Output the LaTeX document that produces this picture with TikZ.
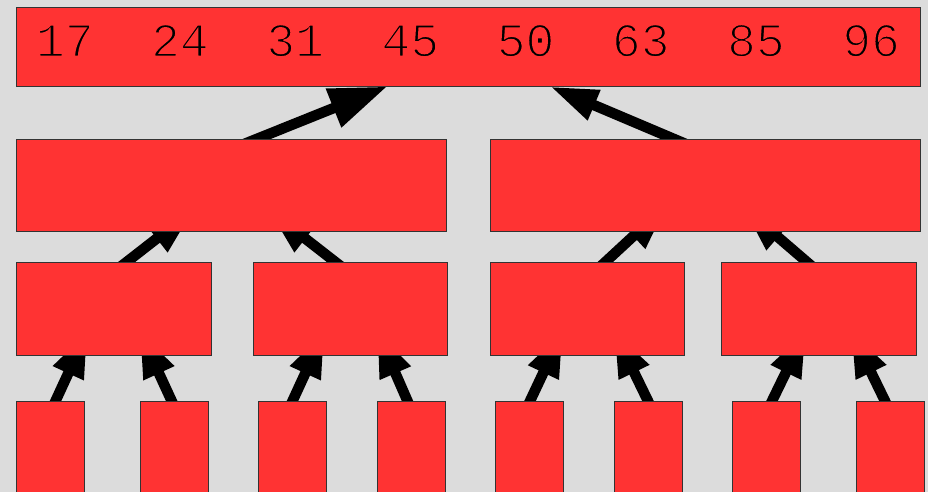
\documentclass[tikz,border=0pt]{standalone}
\usepackage{fontspec}
\newfontfamily\monofnt{Liberation Mono}
\usetikzlibrary{arrows.meta}
\pgfdeclarelayer{back}
\pgfdeclarelayer{arrows}
\pgfsetlayers{back,arrows,main}
\definecolor{bgc}{HTML}{DCDCDC}
\definecolor{boxred}{HTML}{FF3333}
\newcommand{\thintext}[1]{\special{pdf:literal direct 2 Tr 1.6 w 1 0.2 0.2 RG}#1\special{pdf:literal direct 0 Tr}}
\begin{document}
\begin{tikzpicture}[x=1pt,y=-1pt,
  box/.style={draw=black!80, line width=0.9pt, fill=boxred, inner sep=0pt, outer sep=0pt, anchor=north west},
  hd/.style 2 args={draw=black, line width=10.5pt, shorten <=-14pt, -{Triangle[length=#1,width=#2]}},
  nums/.style={font=\monofnt\fontsize{48}{48}\selectfont, inner sep=0pt, anchor=base}]
\clip (0,0) rectangle (928,492);
\begin{pgfonlayer}{back}
  \fill[bgc] (0,0) rectangle (928,492);
\end{pgfonlayer}
% level 1
\node[box, minimum width=904pt, minimum height=79pt] (top) at (16,7) {};
\node[nums] (vals) at (468,56.5) {\thintext{17\hspace{1.2em}24\hspace{1.2em}31\hspace{1.2em}45\hspace{1.2em}50\hspace{1.2em}63\hspace{1.2em}85\hspace{1.2em}96}};
% level 2
\node[box, minimum width=430pt, minimum height=92pt] (l2a) at (16,139) {};
\node[box, minimum width=430pt, minimum height=92pt] (l2b) at (490,139) {};
% level 3
\node[box, minimum width=195pt, minimum height=92.5pt] (l3a) at (16,262.5) {};
\node[box, minimum width=194pt, minimum height=92.5pt] (l3b) at (253,262.5) {};
\node[box, minimum width=194pt, minimum height=92.5pt] (l3c) at (490,262.5) {};
\node[box, minimum width=195pt, minimum height=92.5pt] (l3d) at (721,262.5) {};
% level 4
\node[box, minimum width=68pt, minimum height=120pt] (l4a) at (16,401) {};
\node[box, minimum width=68pt, minimum height=120pt] (l4b) at (140,401) {};
\node[box, minimum width=68pt, minimum height=120pt] (l4c) at (258,401) {};
\node[box, minimum width=68pt, minimum height=120pt] (l4d) at (377,401) {};
\node[box, minimum width=68pt, minimum height=120pt] (l4e) at (495,401) {};
\node[box, minimum width=68pt, minimum height=120pt] (l4f) at (614,401) {};
\node[box, minimum width=68pt, minimum height=120pt] (l4g) at (732,401) {};
\node[box, minimum width=68pt, minimum height=120pt] (l4h) at (856,401) {};
\begin{pgfonlayer}{arrows}
  % level 2 -> level 1
  \draw[hd={58pt}{39pt}] ([xshift=25.6pt]l2a.north) -- ([xshift=-80.7pt,yshift=-0.5pt]top.south);
  \draw[hd={48pt}{30pt}] ([xshift=-31pt]l2b.north) -- ([xshift=82pt,yshift=-0.5pt]top.south);
  % level 3 -> level 2
  \draw[hd={47pt}{32pt}] ([xshift=12.5pt]l3a.north) -- ([xshift=-37.2pt,yshift=21.3pt]l2a.south);
  \draw[hd={47pt}{32pt}] ([xshift=-14pt]l3b.north) -- ([xshift=37.2pt,yshift=21.3pt]l2a.south);
  \draw[hd={47pt}{32pt}] ([xshift=17.8pt]l3c.north) -- ([xshift=-37.2pt,yshift=26.8pt]l2b.south);
  \draw[hd={47pt}{32pt}] ([xshift=-11pt]l3d.north) -- ([xshift=37.3pt,yshift=24.6pt]l2b.south);
  % level 4 -> level 3
  \draw[hd={46pt}{31pt}] ([xshift=5.5pt]l4a.north) -- ([xshift=-26pt,yshift=23.5pt]l3a.south);
  \draw[hd={46pt}{31pt}] ([xshift=-2.3pt]l4b.north) -- ([xshift=26.2pt,yshift=23.5pt]l3a.south);
  \draw[hd={46pt}{31pt}] ([xshift=0.5pt]l4c.north) -- ([xshift=-25.5pt,yshift=23.5pt]l3b.south);
  \draw[hd={46pt}{31pt}] ([xshift=-3.5pt]l4d.north) -- ([xshift=27pt,yshift=24pt]l3b.south);
  \draw[hd={46pt}{31pt}] ([xshift=1pt]l4e.north) -- ([xshift=-24pt,yshift=24pt]l3c.south);
  \draw[hd={46pt}{31pt}] ([xshift=0pt]l4f.north) -- ([xshift=27pt,yshift=24pt]l3c.south);
  \draw[hd={46pt}{31pt}] ([xshift=6pt]l4g.north) -- ([xshift=-12.5pt,yshift=24pt]l3d.south);
  \draw[hd={46pt}{31pt}] ([xshift=-5pt]l4h.north) -- ([xshift=32.5pt,yshift=24pt]l3d.south);
\end{pgfonlayer}
\end{tikzpicture}
\end{document}
